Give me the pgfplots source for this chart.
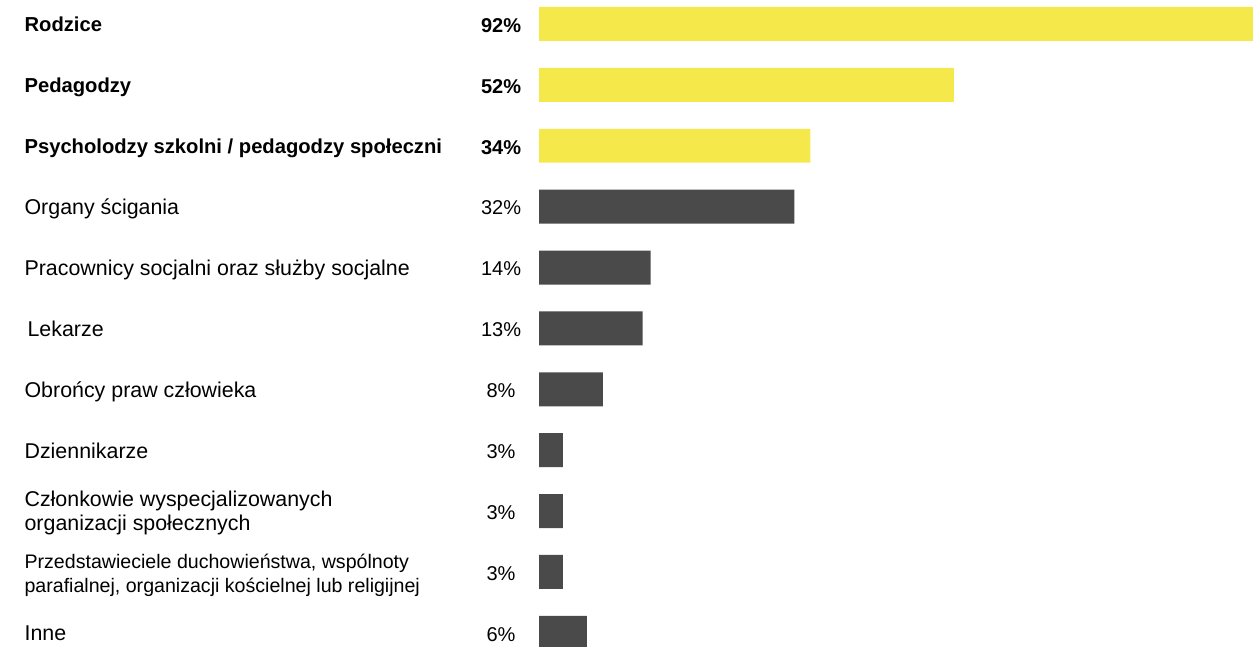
\documentclass[border=0pt]{standalone}
\usepackage{pgfplots}
\pgfplotsset{compat=1.18}
\usepackage{fontspec}
\setmainfont{Liberation Sans}
\definecolor{barY}{RGB}{245,232,75}
\definecolor{barD}{RGB}{74,74,74}
\newcommand\st{\rule[-2.5pt]{0pt}{10.1pt}}
\newcommand\B[1]{{\fontsize{10.1pt}{13pt}\selectfont\bfseries\st #1}}
\newcommand\R[1]{{\fontsize{10.7pt}{13pt}\selectfont\st #1}}
\begin{document}
\begin{tikzpicture}
\begin{axis}[
  width=626.5pt, height=323.5pt, scale only axis,
  xmin=-67.54, xmax=89.47,
  ymin=-0.394, ymax=10.23,
  y dir=reverse,
  axis line style={draw=none},
  major tick length=0pt,
  xtick=\empty,
  ytick={0,1,2,3,4,5,6,7,8,9,10},
  yticklabels={
    \B{Rodzice},
    \B{Pedagodzy},
    \B{Psycholodzy szkolni / pedagodzy społeczni},
    \R{Organy ścigania},
    \R{Pracownicy socjalni oraz służby socjalne},
    \R{\hspace{1.5pt}Lekarze},
    \R{Obrońcy praw człowieka},
    \R{Dziennikarze},
    {\R{Członkowie wyspecjalizowanych}\\\R{organizacji społecznych}},
    {{\fontsize{9.8pt}{11.6pt}\selectfont\rule[-2.3pt]{0pt}{10.6pt}Przedstawieciele duchowieństwa, wspólnoty}\\{\fontsize{9.8pt}{11.6pt}\selectfont\rule[-2.3pt]{0pt}{9.3pt}parafialnej, organizacji kościelnej lub religijnej}},
    \R{Inne}},
  yticklabel style={anchor=west, xshift=12pt, yshift=-1.3pt, inner sep=0pt, align=left},
  clip=true,
]
\addplot[xbar, bar width=17pt, bar shift=0pt, fill=barY, draw=none]
  coordinates {(92,0) (52,1) (34,2)};
\addplot[xbar, bar width=17pt, bar shift=0pt, fill=barD, draw=none]
  coordinates {(32,3) (14,4) (13,5) (8,6) (3,7) (3,8) (3,9) (6,10)};
\addplot[draw=none, mark=none, nodes near coords, point meta=explicit symbolic,
  nodes near coords align=center,
  every node near coord/.append style={font=\fontsize{10pt}{12pt}\selectfont, inner sep=0pt, anchor=center, yshift=-0.7pt}]
  coordinates {
   (-4.76,0) [\textbf{92\%}]
   (-4.76,1) [\textbf{52\%}]
   (-4.76,2) [\textbf{34\%}]
   (-4.76,3) [32\%]
   (-4.76,4) [14\%]
   (-4.76,5) [13\%]
   (-4.76,6) [8\%]
   (-4.76,7) [3\%]
   (-4.76,8) [3\%]
   (-4.76,9) [3\%]
   (-4.76,10) [6\%]
  };
\end{axis}
\end{tikzpicture}
\end{document}
